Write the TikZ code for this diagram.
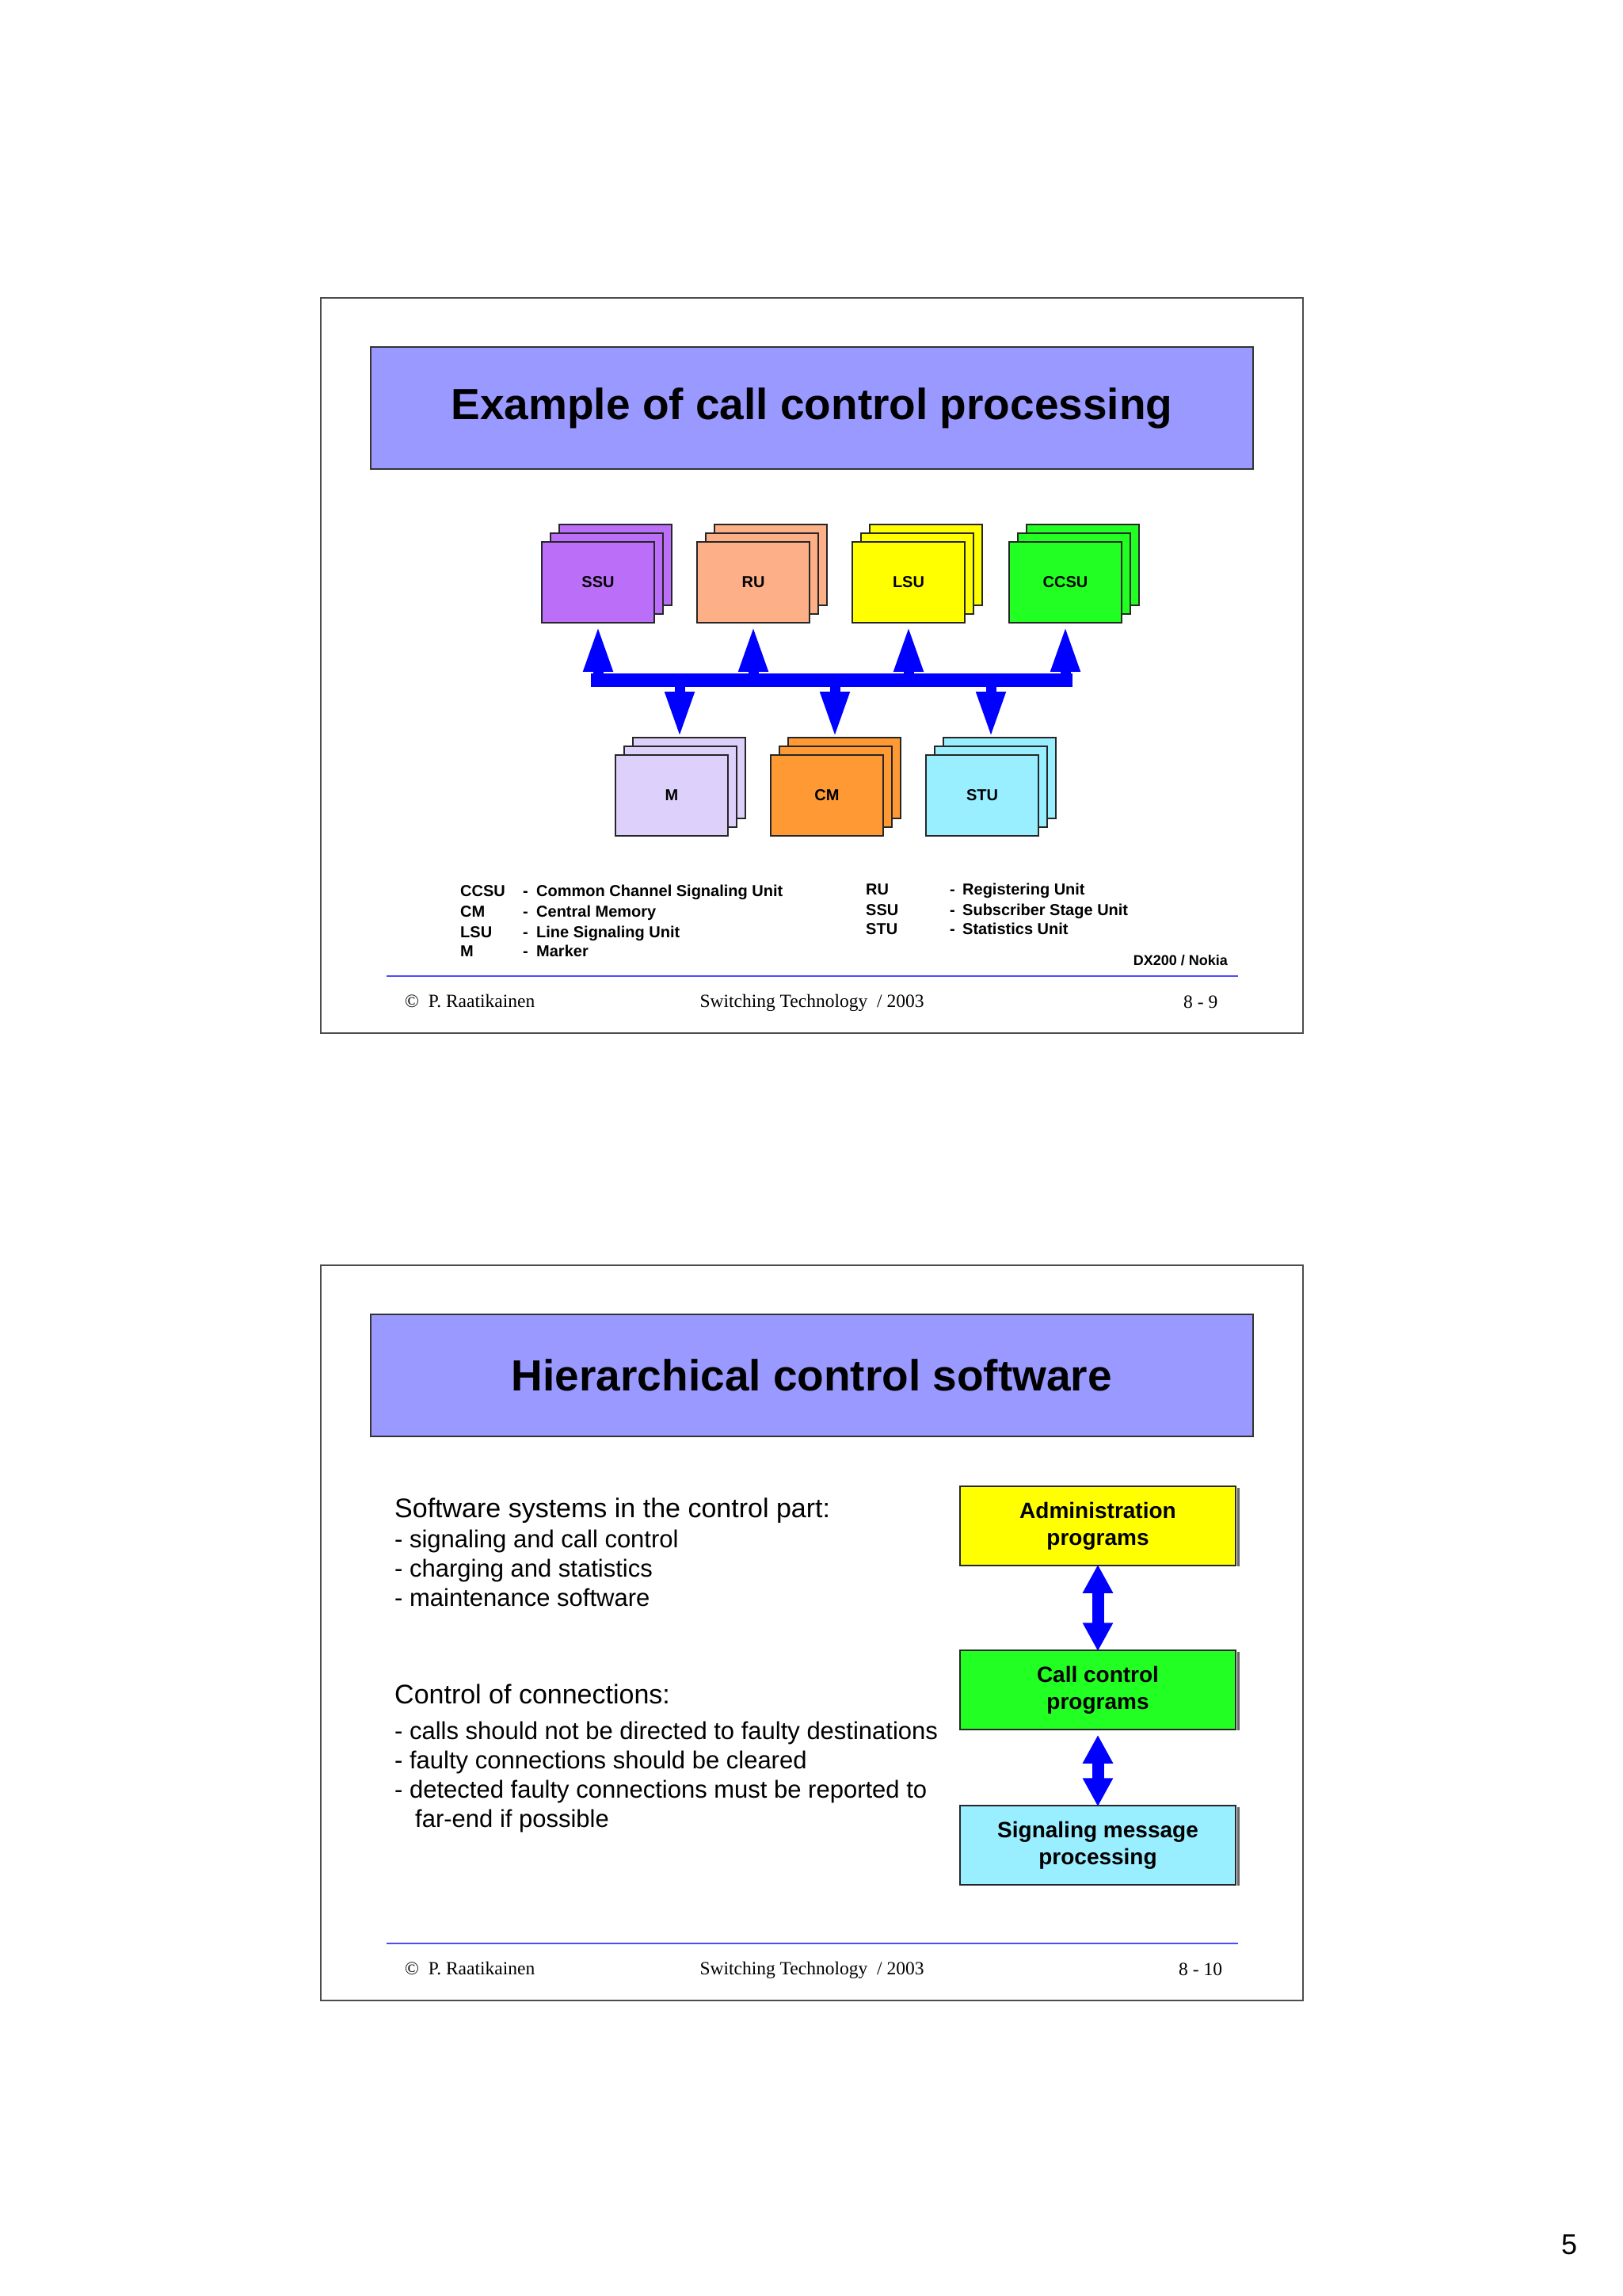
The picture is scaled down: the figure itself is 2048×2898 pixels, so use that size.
\documentclass[tikz,border=0pt]{standalone}
\usepackage{fontspec}
\setmainfont{Liberation Serif}
\setsansfont{Liberation Sans}
\usetikzlibrary{arrows.meta,calc}
\definecolor{ttl}{HTML}{9999FF}
\definecolor{cssu}{HTML}{BB6EF7}
\definecolor{cru}{HTML}{FDAF87}
\definecolor{clsu}{HTML}{FFFF00}
\definecolor{cccsu}{HTML}{22FF22}
\definecolor{cm}{HTML}{DDD0FA}
\definecolor{ccm}{HTML}{FF9933}
\definecolor{cstu}{HTML}{99EEFF}
\definecolor{bblue}{HTML}{0000FF}
\tikzset{
 frame/.style={draw=black!70,line width=1.2pt},
 titlebox/.style={draw=black!80,fill=ttl,line width=1.2pt,minimum width=1114pt,minimum height=154pt,font=\sffamily\bfseries\fontsize{55}{60}\selectfont},
 unitbox/.style={draw=black!85,line width=1.8pt,minimum width=142pt,minimum height=102pt,font=\sffamily\bfseries\fontsize{20}{22}\selectfont},
 prog/.style={draw=black!85,line width=1.5pt,minimum width=348pt,minimum height=100pt,align=center,font=\sffamily\bfseries\fontsize{28}{34}\selectfont},
 bus/.style={bblue,line width=17pt},
 upar/.style={bblue,line width=13pt,-{Triangle[width=34pt,length=58pt]}},
 dbl/.style={bblue,line width=15pt,{Triangle[width=36pt,length=36pt]}-{Triangle[width=36pt,length=36pt]}},
 legend/.style={anchor=base west,inner sep=0pt,font=\sffamily\bfseries\fontsize{20}{22}\selectfont},
 foot/.style={anchor=base,inner sep=0pt,font=\rmfamily\fontsize{23.5}{26}\selectfont},
 body/.style={anchor=base west,inner sep=0pt,font=\sffamily\fontsize{31}{36}\selectfont},
 head/.style={anchor=base west,inner sep=0pt,font=\sffamily\fontsize{34}{38}\selectfont},
 rule/.style={draw=bblue!70,line width=1.2pt}
}
\newcommand{\stk}[5]{%
 \foreach \k in {2,1}{\node[unitbox,fill=#4] at ($(#2,#3)+(11*\k,-11*\k)$) {};}
 \node[unitbox,fill=#4] (#1) at (#2,#3) {#5};}
\begin{document}
\begin{tikzpicture}[x=1pt,y=-1pt]
\useasboundingbox (0,0) rectangle (2048,2898);
\fill[white] (0,0) rectangle (2048,2898);
% ---------- slide 1
\draw[frame] (405,376) rectangle (1645,1304);
\node[titlebox] (t1) at (1025,515) {Example of call control processing};
\stk{ssu}{755}{735}{cssu}{SSU}
\stk{ru}{951}{735}{cru}{RU}
\stk{lsu}{1147}{735}{clsu}{LSU}
\stk{ccsu}{1345}{735}{cccsu}{CCSU}
\stk{m}{848}{1004}{cm}{M}
\stk{cmm}{1044}{1004}{ccm}{CM}
\stk{stu}{1240}{1004}{cstu}{STU}
\coordinate (bl) at (746,858);
\coordinate (br) at (1354,858);
\draw[bus] (bl) -- (br);
\foreach \n in {ssu,ru,lsu,ccsu}{\draw[upar] (\n.south |- bl) -- ([yshift=-3pt]\n.south);}
\foreach \n/\xx in {m/858,cmm/1054,stu/1251}{\coordinate (c\n) at (\xx,858); \draw[upar] (c\n) -- (\xx,931);}
\node[legend] at (581,1131) {CCSU}; \node[legend] at (660,1131) {-}; \node[legend] at (677,1131) {Common Channel Signaling Unit};
\node[legend] at (581,1157) {CM};   \node[legend] at (660,1157) {-}; \node[legend] at (677,1157) {Central Memory};
\node[legend] at (581,1183) {LSU};  \node[legend] at (660,1183) {-}; \node[legend] at (677,1183) {Line Signaling Unit};
\node[legend] at (581,1207) {M};    \node[legend] at (660,1207) {-}; \node[legend] at (677,1207) {Marker};
\node[legend] at (1093,1129) {RU};  \node[legend] at (1199,1129) {-}; \node[legend] at (1215,1129) {Registering Unit};
\node[legend] at (1093,1155) {SSU}; \node[legend] at (1199,1155) {-}; \node[legend] at (1215,1155) {Subscriber Stage Unit};
\node[legend] at (1093,1179) {STU}; \node[legend] at (1199,1179) {-}; \node[legend] at (1215,1179) {Statistics Unit};
\node[legend,anchor=base east,font=\sffamily\bfseries\fontsize{18}{20}\selectfont] at (1550,1218) {DX200 / Nokia};
\draw[rule] (488,1232) -- (1563,1232);
\node[foot,anchor=base west] at (511,1271) {\textcopyright\ \ P. Raatikainen};
\node[foot] at (1025,1271) {Switching Technology \ / 2003};
\node[foot,anchor=base west] at (1494,1272) {8 - 9};
% ---------- slide 2
\draw[frame] (405,1597) rectangle (1645,2525);
\node[titlebox] (t2) at (1025,1736) {Hierarchical control software};
\node[head] at (498,1915) {Software systems in the control part:};
\node[body] at (498,1953) {- signaling and call control};
\node[body] at (498,1990) {- charging and statistics};
\node[body] at (498,2027) {- maintenance software};
\node[head] at (498,2150) {Control of connections:};
\node[body] at (498,2195) {- calls should not be directed to faulty destinations};
\node[body] at (498,2232) {- faulty connections should be cleared};
\node[body] at (498,2269) {- detected faulty connections must be reported to};
\node[body] at (498,2306) {\hspace*{26pt}far-end if possible};
\node[prog,fill=clsu] (adm) at (1386,1926) {Administration\\programs};
\node[prog,fill=cccsu] (cc) at (1386,2133) {Call control\\programs};
\node[prog,fill=cstu] (sig) at (1386,2329) {Signaling message\\processing};
\foreach \b in {adm,cc,sig}{\draw[black!60,line width=3pt] ([xshift=3pt,yshift=-3pt]\b.north east) -- ([xshift=3pt]\b.south east);}
\draw[dbl] ([yshift=2pt]adm.south) -- ([yshift=-2pt]cc.north);
\draw[dbl] ([yshift=-6pt]cc.south) -- ([yshift=-2pt]sig.north);
\draw[rule] (488,2453) -- (1563,2453);
\node[foot,anchor=base west] at (511,2492) {\textcopyright\ \ P. Raatikainen};
\node[foot] at (1025,2492) {Switching Technology \ / 2003};
\node[foot,anchor=base west] at (1488,2493) {8 - 10};
\node[anchor=base,inner sep=0pt,font=\sffamily\fontsize{36}{40}\selectfont] (pg) at (1981,2845) {5};
\end{tikzpicture}
\end{document}
